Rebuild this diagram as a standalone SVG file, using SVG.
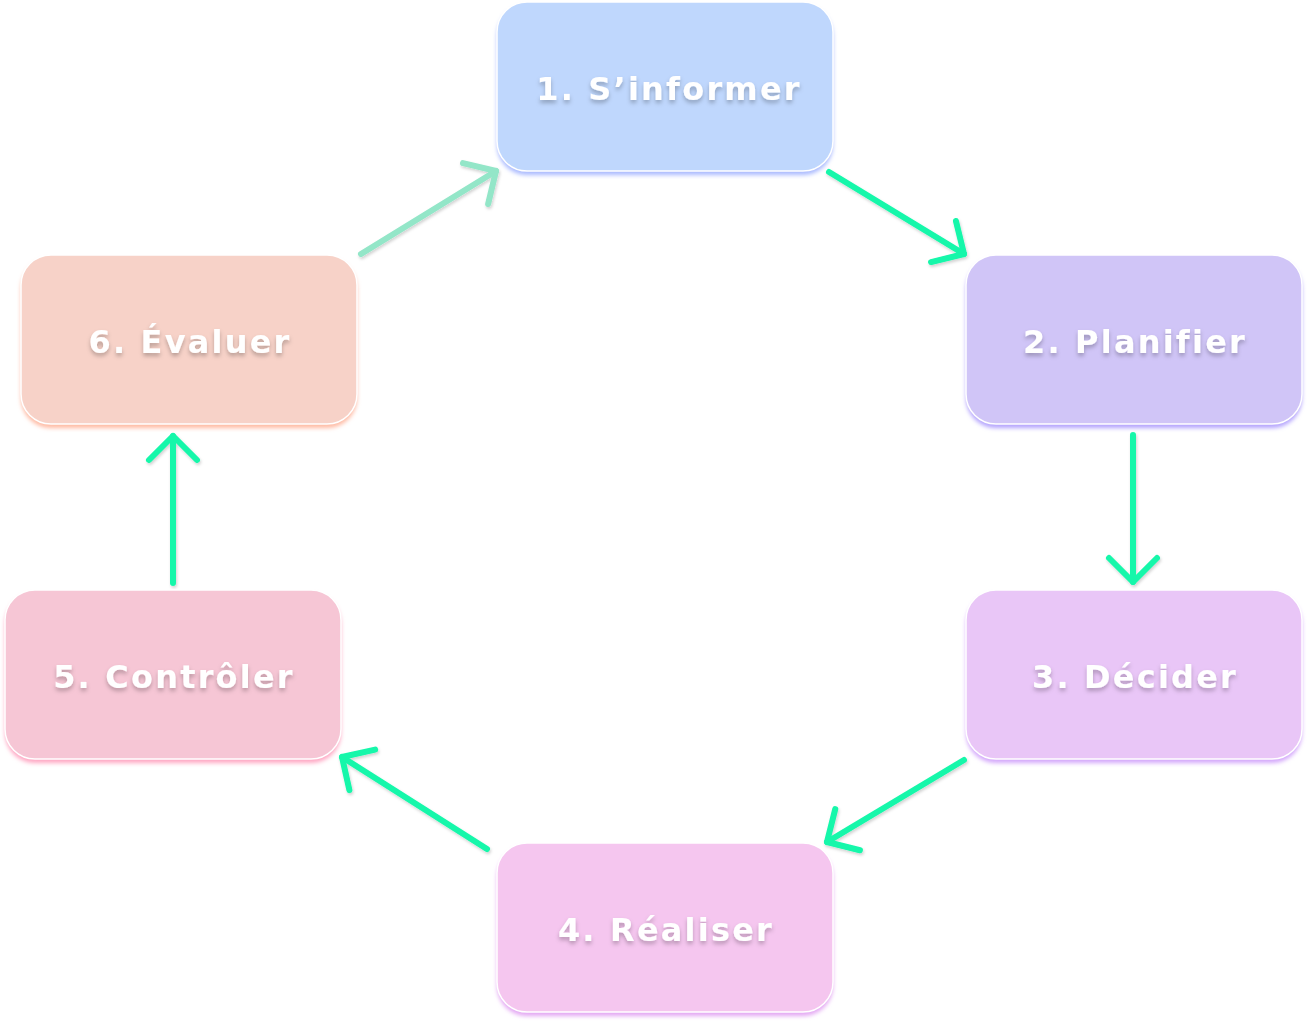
<svg xmlns="http://www.w3.org/2000/svg" width="1307" height="1023" viewBox="0 0 1307 1023">
<defs>
<style>
.box{stroke:#ffffff;stroke-width:1.5}
.sh{filter:url(#blur)}
.lbl{font-family:"DejaVu Sans","Open Sans",sans-serif;font-weight:700;font-size:32px;fill:#ffffff;text-anchor:middle;letter-spacing:2.2px;filter:url(#tshadow)}
.arr{fill:none;stroke:#14f7aa;stroke-width:6;stroke-linecap:round;stroke-linejoin:round;marker-end:url(#head);filter:url(#ashadow)}
.faded{stroke:#93e6c8}
</style>
<filter id="blur" x="-10%" y="-10%" width="120%" height="130%"><feGaussianBlur stdDeviation="2"/></filter>
<filter id="tshadow" x="-10%" y="-30%" width="120%" height="160%"><feDropShadow dx="0" dy="3" stdDeviation="2" flood-color="#000000" flood-opacity="0.25"/></filter>
<filter id="ashadow" filterUnits="userSpaceOnUse" x="0" y="0" width="1307" height="1023"><feDropShadow dx="1" dy="2" stdDeviation="1.5" flood-color="#000000" flood-opacity="0.18"/></filter>
<marker id="head" markerUnits="userSpaceOnUse" markerWidth="60" markerHeight="60" refX="0" refY="0" viewBox="-40 -30 50 60" orient="auto" overflow="visible">
<path d="M -24 -24 L 0 0 L -24 24" fill="none" stroke="context-stroke" stroke-width="6" stroke-linecap="round" stroke-linejoin="round"/>
</marker>
</defs>
<g id="connectors">
<path class="arr faded" d="M 361 254 L 496 171"/>
<path class="arr" d="M 829 172 L 964 254"/>
<path class="arr" d="M 1133 435 L 1133 582"/>
<path class="arr" d="M 964 760 L 827 842"/>
<path class="arr" d="M 487 849 L 342 757"/>
<path class="arr" d="M 173 583 L 173 436"/>
</g>
<g id="node1">
<rect class="sh" x="497" y="6" width="336" height="169" rx="30" fill="#a9b9fe"/>
<rect class="box" x="497" y="2" width="336" height="169" rx="30" fill="#bfd7fd"/>
<text class="lbl" x="669" y="100">1. S’informer</text>
</g>
<g id="node2">
<rect class="sh" x="966" y="259" width="336" height="169" rx="30" fill="#b2a2fd"/>
<rect class="box" x="966" y="255" width="336" height="169" rx="30" fill="#d0c5f7"/>
<text class="lbl" x="1135" y="353">2. Planifier</text>
</g>
<g id="node3">
<rect class="sh" x="966" y="594" width="336" height="169" rx="30" fill="#d3a6fb"/>
<rect class="box" x="966" y="590" width="336" height="169" rx="30" fill="#e9c6f7"/>
<text class="lbl" x="1135" y="688">3. Décider</text>
</g>
<g id="node4">
<rect class="sh" x="497" y="847" width="336" height="169" rx="30" fill="#e3a6f3"/>
<rect class="box" x="497" y="843" width="336" height="169" rx="30" fill="#f5c6ef"/>
<text class="lbl" x="666" y="941">4. Réaliser</text>
</g>
<g id="node5">
<rect class="sh" x="5" y="594" width="336" height="169" rx="30" fill="#fea6c2"/>
<rect class="box" x="5" y="590" width="336" height="169" rx="30" fill="#f6c6d5"/>
<text class="lbl" x="174" y="688">5. Contrôler</text>
</g>
<g id="node6">
<rect class="sh" x="21" y="259" width="336" height="169" rx="30" fill="#feb9a2"/>
<rect class="box" x="21" y="255" width="336" height="169" rx="30" fill="#f7d2c8"/>
<text class="lbl" x="190" y="353">6. Évaluer</text>
</g>
</svg>
